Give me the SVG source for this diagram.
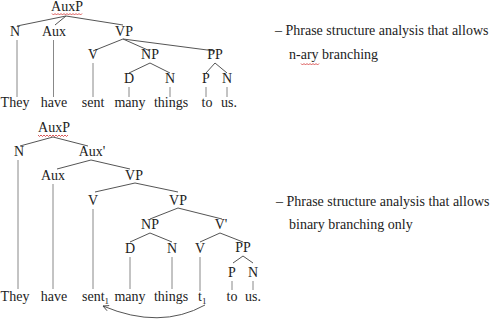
<svg xmlns="http://www.w3.org/2000/svg" width="500" height="321" viewBox="0 0 500 321">
<style>
text{font-family:"Liberation Serif","Times New Roman",serif;font-size:14px;fill:#222}
.n{text-anchor:middle}
.e{stroke:#555;stroke-width:1;fill:none}
.v{stroke:#888;stroke-width:1;fill:none}
.sq{stroke:#d03030;stroke-width:0.8;fill:none}
.sub{font-size:9px}
</style>
<defs>
<marker id="ah" viewBox="0 0 10 10" refX="9" refY="5" markerWidth="7" markerHeight="7" orient="auto" markerUnits="userSpaceOnUse">
<path d="M1 1 L9 5 L1 9" fill="none" stroke="#444" stroke-width="1.2"/>
</marker>
</defs>
<rect width="500" height="321" fill="#fff"/>
<g id="connectors">
<!-- top tree -->
<path class="e" d="M66 16 L17 26 M66 16 L55 25 M66 16 L123 25"/>
<path class="e" d="M123 39 L93 51 M123 39 L150 51 M123 39 L215 51"/>
<path class="e" d="M150 63 L129 73 M150 63 L170 73 M215 63 L206 73 M215 63 L227 73"/>
<path class="v" d="M17 40 V97 M53.5 40 V97 M93 63 V97 M129 87 V97 M170 87 V97 M206 87 V97 M227 87 V97"/>
<!-- bottom tree -->
<path class="e" d="M53 137 L20 146 M53 137 L88 146"/>
<path class="e" d="M91 160 L57 169 M91 160 L130 169"/>
<path class="e" d="M135 183 L95 192 M135 183 L178 192"/>
<path class="e" d="M178 208 L150 219 M178 208 L222 219"/>
<path class="e" d="M150 233 L130 242 M150 233 L172 242 M220 233 L200 242 M220 233 L243 242"/>
<path class="e" d="M243 256 L233 263 M243 256 L253 263"/>
<path class="v" d="M18 160 V289 M53 184 V289 M93 209 V289 M130 257 V289 M172 257 V289 M200 257 V291 M232 281 V290 M253 281 V290"/>
<path class="e" d="M205 305 Q160 330 103 306" marker-end="url(#ah)"/>
</g>
<g id="squiggles">
<path class="sq" d="M52 13.5 l1.5 1.5 1.5 -1.5 1.5 1.5 1.5 -1.5 1.5 1.5 1.5 -1.5 1.5 1.5 1.5 -1.5 1.5 1.5 1.5 -1.5 1.5 1.5 1.5 -1.5 1.5 1.5 1.5 -1.5 1.5 1.5 1.5 -1.5 1.5 1.5 1.5 -1.5 1.5 1.5 1.5 -1.5"/>
<path class="sq" d="M38 135 l1.5 1.5 1.5 -1.5 1.5 1.5 1.5 -1.5 1.5 1.5 1.5 -1.5 1.5 1.5 1.5 -1.5 1.5 1.5 1.5 -1.5 1.5 1.5 1.5 -1.5 1.5 1.5 1.5 -1.5 1.5 1.5 1.5 -1.5 1.5 1.5 1.5 -1.5 1.5 1.5 1.5 -1.5"/>
<path class="sq" d="M301 63.5 l1.5 1.5 1.5 -1.5 1.5 1.5 1.5 -1.5 1.5 1.5 1.5 -1.5 1.5 1.5 1.5 -1.5 1.5 1.5 1.5 -1.5 1.5 1.5 1.5 -1.5"/>
</g>
<!-- top tree nodes -->
<g id="t-AuxP"><text class="n" x="67" y="11">AuxP</text></g>
<g id="t-N"><text class="n" x="15" y="36">N</text></g>
<g id="t-Aux"><text class="n" x="54" y="36">Aux</text></g>
<g id="t-VP"><text class="n" x="124" y="36">VP</text></g>
<g id="t-V"><text class="n" x="93" y="59">V</text></g>
<g id="t-NP"><text class="n" x="150" y="59">NP</text></g>
<g id="t-PP"><text class="n" x="215" y="59">PP</text></g>
<g id="t-D"><text class="n" x="129" y="83">D</text></g>
<g id="t-N2"><text class="n" x="170" y="83">N</text></g>
<g id="t-P"><text class="n" x="206" y="83">P</text></g>
<g id="t-N3"><text class="n" x="227" y="83">N</text></g>
<g id="t-words">
<text class="n" x="15" y="107">They</text>
<text class="n" x="54" y="107">have</text>
<text class="n" x="93" y="107">sent</text>
<text class="n" x="130" y="107">many</text>
<text class="n" x="171" y="107">things</text>
<text class="n" x="207" y="107">to</text>
<text class="n" x="229" y="107">us.</text>
</g>
<!-- bottom tree nodes -->
<g id="b-AuxP"><text class="n" x="54" y="132">AuxP</text></g>
<g id="b-N"><text class="n" x="19" y="156">N</text></g>
<g id="b-AuxBar"><text class="n" x="92" y="156">Aux'</text></g>
<g id="b-Aux"><text class="n" x="53" y="180">Aux</text></g>
<g id="b-VP"><text class="n" x="134" y="180">VP</text></g>
<g id="b-V"><text class="n" x="93" y="205">V</text></g>
<g id="b-VP2"><text class="n" x="178" y="205">VP</text></g>
<g id="b-NP"><text class="n" x="150" y="229">NP</text></g>
<g id="b-VBar"><text class="n" x="221" y="229">V'</text></g>
<g id="b-D"><text class="n" x="130" y="253">D</text></g>
<g id="b-N2"><text class="n" x="172" y="253">N</text></g>
<g id="b-V2"><text class="n" x="200" y="253">V</text></g>
<g id="b-PP"><text class="n" x="243" y="252">PP</text></g>
<g id="b-P"><text class="n" x="232" y="277">P</text></g>
<g id="b-N3"><text class="n" x="253" y="277">N</text></g>
<g id="b-words">
<text class="n" x="15" y="301">They</text>
<text class="n" x="54" y="301">have</text>
<text x="82" y="301">sent<tspan class="sub" dy="3">1</tspan></text>
<text class="n" x="130" y="301">many</text>
<text class="n" x="171" y="301">things</text>
<text x="198" y="301">t<tspan class="sub" dy="3">1</tspan></text>
<text class="n" x="232" y="301">to</text>
<text class="n" x="253" y="301">us.</text>
</g>
<!-- captions -->
<g id="caption-top">
<text x="275" y="35">– Phrase structure analysis that allows</text>
<text x="289" y="59">n-ary branching</text>
</g>
<g id="caption-bottom">
<text x="276" y="206">– Phrase structure analysis that allows</text>
<text x="289" y="229">binary branching only</text>
</g>
</svg>
